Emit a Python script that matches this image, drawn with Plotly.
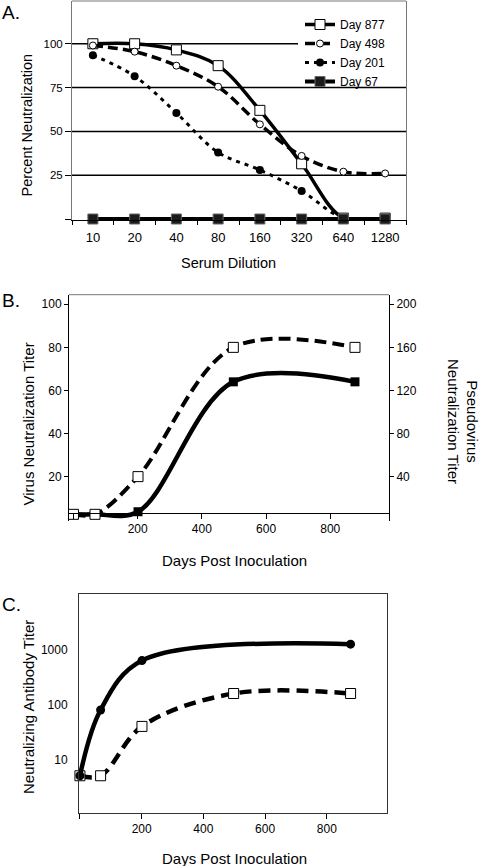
import plotly.graph_objects as go

# ---------------- Panel A data ----------------
dilutions = ["10", "20", "40", "80", "160", "320", "640", "1280"]
day877 = [100, 100, 96.5, 87.5, 62, 31.5, 0.5, 0.5]
day498 = [99, 95.5, 87.5, 75.5, 54, 36, 27, 26]
day201 = [93.5, 81.5, 60.5, 38, 28, 16, 0.5, 0]
day67 = [0, 0, 0, 0, 0, 0, 0, 0]
grid_levels_a = [25, 50, 75]

# ---------------- Panel B data ----------------
days_b = [0, 67, 201, 498, 877]
virus_titer = [2.5, 2.5, 3.7, 64, 64]          # left axis
pseudo_titer_b = [5, 5, 40, 160, 160]          # right axis

# ---------------- Panel C data ----------------
days_c_solid = [0, 67, 201, 877]
nab_solid = [5, 80, 640, 1280]
days_c_dash = [0, 67, 201, 498, 877]
nab_dash = [5, 5, 40, 160, 160]

W, H = 480, 866
FONT = "Liberation Sans, Arial, sans-serif"


def px(x):
    return x / W


def py(y):
    return 1 - y / H


fig = go.Figure()

# Panel A traces
fig.add_trace(go.Scatter(
    x=dilutions, y=day877, name="Day 877", mode="lines+markers",
    line=dict(color="black", width=3.5, shape="spline", smoothing=1.0),
    marker=dict(symbol="square", size=10, color="white", line=dict(color="black", width=1)),
    xaxis="x", yaxis="y", cliponaxis=False))
fig.add_trace(go.Scatter(
    x=dilutions, y=day498, name="Day 498", mode="lines+markers",
    line=dict(color="black", width=3.5, dash="10px,5px", shape="spline", smoothing=1.0),
    marker=dict(symbol="circle", size=7, color="white", line=dict(color="black", width=1)),
    xaxis="x", yaxis="y", cliponaxis=False))
fig.add_trace(go.Scatter(
    x=dilutions, y=day201, name="Day 201", mode="lines+markers",
    line=dict(color="black", width=3, dash="4px,5px", shape="spline", smoothing=1.0),
    marker=dict(symbol="circle", size=8, color="black"),
    xaxis="x", yaxis="y", cliponaxis=False))
fig.add_trace(go.Scatter(
    x=dilutions, y=day67, name="Day 67", mode="lines+markers",
    line=dict(color="black", width=4, shape="spline"),
    marker=dict(symbol="square", size=10, color="#1a1a1a", line=dict(color="#666", width=1)),
    xaxis="x", yaxis="y", cliponaxis=False))

# Panel B traces
fig.add_trace(go.Scatter(
    x=days_b, y=pseudo_titer_b, mode="lines+markers", showlegend=False,
    line=dict(color="black", width=4, dash="12px,6px", shape="spline", smoothing=1.0),
    marker=dict(symbol="square", size=10, color="white", line=dict(color="black", width=1)),
    xaxis="x2", yaxis="y3", cliponaxis=False))
fig.add_trace(go.Scatter(
    x=days_b, y=virus_titer, mode="lines+markers", showlegend=False,
    line=dict(color="black", width=4.5, shape="spline", smoothing=1.0),
    marker=dict(symbol="square", size=9, color="black"),
    xaxis="x2", yaxis="y2", cliponaxis=False))

# Panel C traces
fig.add_trace(go.Scatter(
    x=days_c_dash, y=nab_dash, mode="lines+markers", showlegend=False,
    line=dict(color="black", width=4.5, dash="12px,7px", shape="spline", smoothing=1.0),
    marker=dict(symbol="square", size=10, color="white", line=dict(color="black", width=1)),
    xaxis="x3", yaxis="y4", cliponaxis=False))
fig.add_trace(go.Scatter(
    x=days_c_solid, y=nab_solid, mode="lines+markers", showlegend=False,
    line=dict(color="black", width=4.5, shape="spline", smoothing=1.0),
    marker=dict(symbol="circle", size=9, color="black"),
    xaxis="x3", yaxis="y4", cliponaxis=False))

tick = dict(family=FONT, size=12, color="black")

fig.update_layout(
    width=W, height=H, margin=dict(l=0, r=0, t=0, b=0),
    paper_bgcolor="white", plot_bgcolor="white",
    font=dict(family=FONT, color="black"),
    # ----- A -----
    xaxis=dict(domain=[px(72), px(406)], anchor="y", type="category",
               categoryorder="array", categoryarray=dilutions, range=[-0.5, 7.5],
               tickson="boundaries", ticks="outside", ticklen=4, tickcolor="black",
               showline=True, linecolor="black", linewidth=1, showgrid=False,
               tickfont=dict(family=FONT, size=13, color="black"), ticklabelstandoff=5),
    yaxis=dict(domain=[py(220.3), py(1)], anchor="x", range=[-0.74, 124.4],
               tickvals=[0, 25, 50, 75, 100], ticktext=["", "25", "50", "75", "100"],
               showgrid=False, zeroline=False,
               showline=True, linecolor="#777", mirror=True, ticks="outside",
               ticklen=6, tickcolor="black", tickfont=dict(family=FONT, size=11.5, color="black")),
    # ----- B -----
    xaxis2=dict(domain=[px(69), px(389)], anchor="free", position=py(512.7),
                range=[-14, 983], tickvals=[0, 200, 400, 600, 800],
                ticktext=["", "200", "400", "600", "800"],
                ticks="outside", ticklen=5, tickcolor="black", showgrid=False,
                zeroline=False, showline=True, linecolor="black", tickfont=tick),
    yaxis2=dict(domain=[py(521), py(294.7)], anchor="x2", range=[-0.6, 104.45],
                tickvals=[20, 40, 60, 80, 100], ticks="outside", ticklen=4,
                tickcolor="black", showgrid=False, zeroline=False,
                showline=True, linecolor="black", tickfont=tick),
    yaxis3=dict(overlaying="y2", side="right", anchor="x2", range=[-1.2, 208.9],
                tickvals=[40, 80, 120, 160, 200], ticks="outside", ticklen=4,
                tickcolor="black", showgrid=False, zeroline=False,
                showline=True, linecolor="black", tickfont=tick),
    # ----- C -----
    xaxis3=dict(domain=[px(79), px(387)], anchor="y4", range=[-3, 995],
                tickvals=[0, 200, 400, 600, 800], ticktext=["", "200", "400", "600", "800"],
                ticks="outside", ticklen=5, tickcolor="black", showgrid=False,
                zeroline=False, showline=True, linecolor="#333", mirror=True, tickfont=tick),
    yaxis4=dict(domain=[py(812.7), py(594)], anchor="x3", type="log",
                range=[0.023, 4.025], tickvals=[10, 100, 1000], ticks="",
                showgrid=False, zeroline=False, showline=True, linecolor="#333",
                mirror=True, tickfont=tick, ticklabelstandoff=8),
    legend=dict(x=px(300), y=py(10), xanchor="left", yanchor="top",
                bgcolor="rgba(0,0,0,0)", borderwidth=0,
                font=dict(family=FONT, size=12, color="black"), itemsizing="trace"),
    showlegend=True,
)

shapes = [
    # top border A
    dict(type="line", xref="paper", yref="paper", x0=px(72), x1=px(406), y0=py(1), y1=py(1),
         line=dict(color="#777", width=1)),
    # top border B
    dict(type="line", xref="paper", yref="paper", x0=px(69), x1=px(389), y0=py(294.7), y1=py(294.7),
         line=dict(color="#777", width=1)),
    # 100 % reference line of panel A stops at the legend
    dict(type="line", xref="paper", yref="y", x0=px(72), x1=px(298), y0=100, y1=100,
         line=dict(color="black", width=1.5), layer="below"),
]
for g in grid_levels_a:
    shapes.append(dict(type="line", xref="paper", yref="y", x0=px(72), x1=px(406), y0=g, y1=g,
                       line=dict(color="black", width=1.5), layer="below"))
fig.update_layout(shapes=shapes)

ann = []


def add_text(text, x, y, size=15, angle=0, xanchor="center"):
    ann.append(dict(text=text, x=px(x), y=py(y), xref="paper", yref="paper",
                    showarrow=False, textangle=angle, xanchor=xanchor, yanchor="middle",
                    font=dict(family=FONT, size=size, color="black")))


add_text("A.", 0, 12, size=19, xanchor="left")
add_text("B.", 0, 301, size=19, xanchor="left")
add_text("C.", 0, 604, size=19, xanchor="left")
add_text("Percent Neutralization", 27, 125.5, size=14.5, angle=-90)
add_text("Serum Dilution", 228.5, 263, size=14.5)
add_text("Virus Neutralization Titer", 27.5, 424, size=15, angle=-90)
add_text("Pseudovirus<br>Neutralization Titer", 463, 421, size=15, angle=90)
add_text("Days Post Inoculation", 234, 560.7, size=15)
add_text("Neutralizing Antibody Titer", 28, 707, size=15, angle=-90)
add_text("Days Post Inoculation", 234, 858, size=15)
fig.update_layout(annotations=ann)

fig.write_html("out.html",
               config={"displayModeBar": False},
               post_script="document.body.style.margin='0px';document.body.style.overflow='hidden';")
